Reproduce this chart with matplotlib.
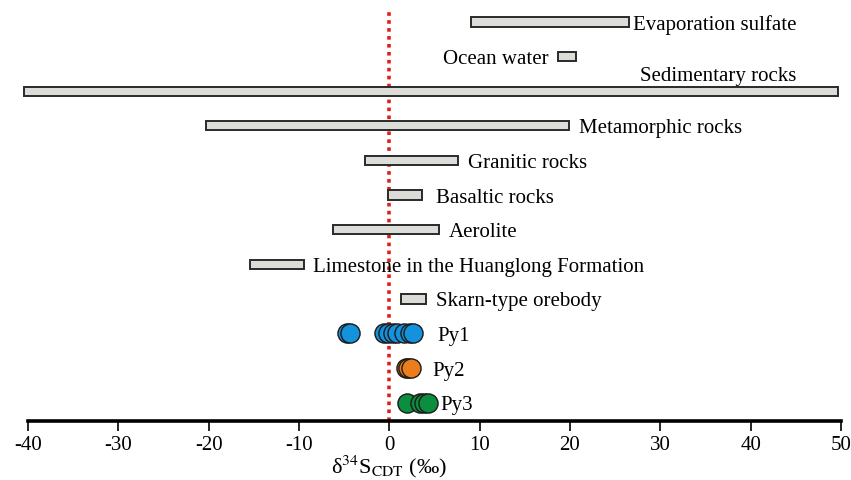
import numpy as np
import matplotlib.pyplot as plt

plt.rcParams['font.family'] = ['Liberation Serif', 'DejaVu Serif']
plt.rcParams['mathtext.fontset'] = 'stix'
plt.rcParams['axes.unicode_minus'] = False

# sulfur isotope ranges of reference reservoirs (per mil)
ref_names = ['Evaporation sulfate', 'Ocean water', 'Sedimentary rocks', 'Metamorphic rocks',
             'Granitic rocks', 'Basaltic rocks', 'Aerolite',
             'Limestone in the Huanglong Formation', 'Skarn-type orebody']
ref_low = [9.0, 18.7, -40.5, -20.3, -2.7, -0.2, -6.2, -15.4, 1.3]
ref_high = [26.5, 20.7, 49.7, 19.9, 7.6, 3.6, 5.5, -9.5, 4.1]

# pyrite samples
py_names = ['Py1', 'Py2', 'Py3']
py1 = [-4.7, -4.4, -0.6, -0.1, 0.4, 0.9, 1.6, 2.3, 2.6]
py2 = [1.8, 2.1, 2.4]
py3 = [2.0, 3.4, 3.8, 4.3]
py_colors = ['#1592DC', '#EC7D1C', '#0B8E3E']

fig = plt.figure(figsize=(8.51, 4.81), dpi=100)
ax = fig.add_axes([19 / 851, 59 / 481, 831 / 851, 417 / 481])

ax.set_xlim(-41, 51)
ax.set_ylim(11.53, -0.52)

# red dotted zero line
ax.vlines(0, 11.53, -0.38, colors='#E0201B', linestyles=(0, (1, 1.2)), lw=2.6, zorder=1)

fs = 15
bar_h = 0.27
for i, (name, lo, hi) in enumerate(zip(ref_names, ref_low, ref_high)):
    ax.barh(i, hi - lo, left=lo, height=bar_h, color='#DCDCD8', edgecolor='#2a2a2a',
            lw=1.4, zorder=2, clip_on=False)
    if name == 'Ocean water':
        ax.annotate(name, (lo, i), xytext=(-7, -1.5), textcoords='offset points',
                    ha='right', va='center', fontsize=fs)
    elif name == 'Sedimentary rocks':
        ax.text(27.7, i - bar_h / 2 - 0.04, name, ha='left', va='bottom', fontsize=fs)
    else:
        pad = 10 if name in ('Basaltic rocks',) else 7
        if name == 'Evaporation sulfate':
            pad = 3
        ax.annotate(name, (hi, i), xytext=(pad, -1.5), textcoords='offset points',
                    ha='left', va='center', fontsize=fs)

py_label_x = [5.3, 4.8, 5.7]
for j, (name, vals, col) in enumerate(zip(py_names, [py1, py2, py3], py_colors)):
    y = len(ref_names) + j
    ax.scatter(vals, [y] * len(vals), s=190, color=col, edgecolor='#1a1a1a', lw=1.0, zorder=3)
    ax.annotate(name, (py_label_x[j], y), xytext=(0, -1.5), textcoords='offset points',
                ha='left', va='center', fontsize=fs)

for s in ['top', 'right', 'left']:
    ax.spines[s].set_visible(False)
ax.spines['bottom'].set_linewidth(2.6)
ax.spines['bottom'].set_bounds(-40, 50)
ax.set_yticks([])
ax.set_xticks(np.arange(-40, 51, 10))
ax.tick_params(axis='x', direction='out', length=7, width=1.2, labelsize=15, pad=3)

fig.text(389.3 / 851, 14 / 481, r'δ$^{34}$S$_{\rm CDT}$ (‰)', ha='center', va='center',
         fontsize=16)

fig.savefig('out.png', dpi=100)
